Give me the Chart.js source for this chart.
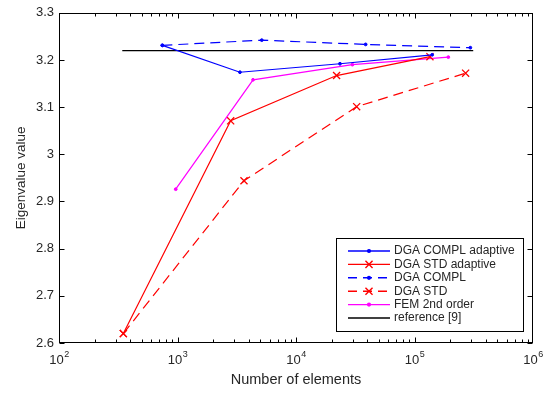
<!DOCTYPE html>
<html>
<head>
<meta charset="utf-8">
<script src="https://cdn.jsdelivr.net/npm/chart.js@4/dist/chart.umd.min.js"></script>
<style>
  html, body { margin: 0; padding: 0; background: #fff; }
  #wrap { width: 559px; height: 395px; }
</style>
</head>
<body>
<div id="wrap"><canvas id="myChart"></canvas></div>
<script>
// values
const xComplAdapt = [745, 3365, 23500, 141000];
const yComplAdapt = [3.231, 3.174, 3.192, 3.211];

const xStdAdapt = [349, 2810, 22000, 135000];
const yStdAdapt = [2.620, 3.071, 3.167, 3.207];

const xCompl = [745, 5140, 38700, 296000];
const yCompl = [3.231, 3.242, 3.233, 3.226];

const xStd = [349, 3640, 32500, 270000];
const yStd = [2.620, 2.944, 3.101, 3.172];

const xFem = [966, 4340, 29900, 193000];
const yFem = [2.926, 3.158, 3.190, 3.206];

const xRef = [342, 313000];
const yRef = [3.22, 3.22];

const xExponents = [2, 3, 4, 5, 6];
const yTicks = [2.6, 2.7, 2.8, 2.9, 3.0, 3.1, 3.2, 3.3];

const FONT = '"Liberation Sans", Arial, Helvetica, sans-serif';
const TXT = '#262626';

const pts = (xs, ys) => xs.map((x, i) => ({ x: x, y: ys[i] }));

function series(label, xs, ys, color, dash, style) {
  return {
    label: label,
    data: pts(xs, ys),
    showLine: true,
    borderColor: color,
    backgroundColor: color,
    borderWidth: 1.2,
    borderDash: dash,
    pointStyle: style === 'x' ? 'crossRot' : 'circle',
    pointRadius: style === 'x' ? 5 : (style === 'dot' ? 1.4 : 0),
    pointBorderWidth: style === 'x' ? 1.3 : 1,
    pointHoverRadius: 0,
    tension: 0
  };
}

const datasets = [
  series('DGA COMPL adaptive', xComplAdapt, yComplAdapt, '#0000ff', [], 'dot'),
  series('DGA STD adaptive', xStdAdapt, yStdAdapt, '#ff0000', [], 'x'),
  series('DGA COMPL', xCompl, yCompl, '#0000ff', [10, 6], 'dot'),
  series('DGA STD', xStd, yStd, '#ff0000', [10, 6], 'x'),
  series('FEM 2nd order', xFem, yFem, '#ff00ff', [], 'dot'),
  series('reference [9]', xRef, yRef, '#000000', [], 'none')
];

// box, inward ticks (major + log minor), x tick labels, legend
const matlabFrame = {
  id: 'matlabFrame',
  afterDatasetsDraw(chart) {
    const { ctx, chartArea: a, scales: { x, y } } = chart;
    const L = Math.round(a.left) + 0.5, R = Math.round(a.right) - 0.5;
    const T = Math.round(a.top) + 0.5, B = Math.round(a.bottom) - 0.5;
    ctx.save();
    ctx.strokeStyle = '#000';
    ctx.lineWidth = 1;
    ctx.setLineDash([]);
    ctx.strokeRect(L, T, R - L, B - T);

    ctx.beginPath();
    // x ticks (major and minor) top and bottom
    for (let e = 2; e < 6; e++) {
      for (let m = 1; m <= 9; m++) {
        const v = m * Math.pow(10, e);
        const px = Math.round(x.getPixelForValue(v)) + 0.5;
        const len = m === 1 ? 5 : 3;
        ctx.moveTo(px, B); ctx.lineTo(px, B - len);
        ctx.moveTo(px, T); ctx.lineTo(px, T + len);
      }
    }
    // y ticks left and right
    yTicks.forEach(v => {
      const py = Math.round(y.getPixelForValue(v)) + 0.5;
      ctx.moveTo(L, py); ctx.lineTo(L + 5, py);
      ctx.moveTo(R, py); ctx.lineTo(R - 5, py);
    });
    ctx.stroke();

    // x tick labels 10^n
    ctx.fillStyle = TXT;
    ctx.textBaseline = 'alphabetic';
    xExponents.forEach(e => {
      const px = x.getPixelForValue(Math.pow(10, e));
      ctx.font = '13px ' + FONT;
      const wb = ctx.measureText('10').width;
      ctx.font = '9px ' + FONT;
      const we = ctx.measureText(String(e)).width;
      const x0 = px - (wb + we) / 2;
      ctx.font = '13px ' + FONT;
      ctx.textAlign = 'left';
      ctx.fillText('10', x0, 364);
      ctx.font = '9px ' + FONT;
      ctx.fillText(String(e), x0 + wb + 0.5, 357);
    });

    // legend
    const lx = 336.5, ly = 238.5, lw = 187, lh = 93;
    ctx.fillStyle = '#fff';
    ctx.fillRect(lx, ly, lw, lh);
    ctx.strokeStyle = '#000';
    ctx.strokeRect(lx, ly, lw, lh);
    chart.data.datasets.forEach((ds, i) => {
      const cy = 251 + i * 13.4;
      ctx.save();
      ctx.strokeStyle = ds.borderColor;
      ctx.lineWidth = 1.4;
      ctx.setLineDash(ds.borderDash.length ? [9, 6] : []);
      ctx.beginPath();
      ctx.moveTo(348, cy); ctx.lineTo(390, cy);
      ctx.stroke();
      ctx.setLineDash([]);
      ctx.fillStyle = ds.backgroundColor;
      if (ds.pointRadius > 0) {
        Chart.helpers.drawPoint(ctx, {
          pointStyle: ds.pointStyle,
          radius: ds.pointRadius,
          borderWidth: ds.pointBorderWidth,
          rotation: 0
        }, 369, cy);
      }
      ctx.restore();
      ctx.fillStyle = TXT;
      ctx.font = '12px ' + FONT;
      ctx.textAlign = 'left';
      ctx.textBaseline = 'middle';
      ctx.fillText(ds.label, 394, cy);
    });
    ctx.restore();
  }
};

const ctx = document.getElementById('myChart').getContext('2d');

const myChart = new Chart(ctx, {
  type: 'scatter',
  data: { datasets: datasets },
  options: {
    responsive: true,
    maintainAspectRatio: false,
    animation: false,
    layout: { padding: { top: 8, right: 26, left: 0, bottom: 0 } },
    plugins: { legend: { display: false }, tooltip: { enabled: false } },
    scales: {
      x: {
        type: 'logarithmic',
        min: 100,
        max: 1000000,
        afterBuildTicks: s => { s.ticks = xExponents.map(e => ({ value: Math.pow(10, e) })); },
        afterFit: s => { s.height = 52; },
        grid: { display: false, drawTicks: false },
        border: { display: false },
        ticks: { display: false },
        title: {
          display: true,
          text: 'Number of elements',
          color: TXT,
          font: { family: FONT, size: 14.5 },
          padding: { top: 0, bottom: 6 }
        }
      },
      y: {
        min: 2.6,
        max: 3.3,
        afterBuildTicks: s => { s.ticks = yTicks.map(v => ({ value: v })); },
        afterFit: s => { s.width = 59; },
        grid: { display: false, drawTicks: false },
        border: { display: false },
        ticks: {
          color: TXT,
          padding: 5,
          font: { family: FONT, size: 13 },
          callback: v => String(+v.toFixed(1))
        },
        title: {
          display: true,
          text: 'Eigenvalue value',
          color: TXT,
          font: { family: FONT, size: 13.5 },
          padding: { top: 13, bottom: 0 }
        }
      }
    }
  },
  plugins: [matlabFrame]
});
</script>
</body>
</html>
